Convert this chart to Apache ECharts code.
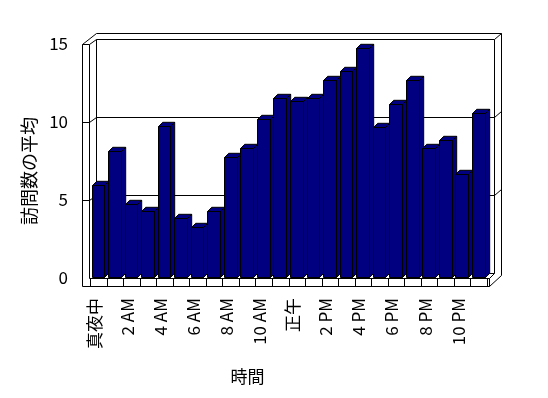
<!DOCTYPE html>
<html>
<head>
<meta charset="utf-8">
<script src="https://cdn.jsdelivr.net/npm/echarts@6/dist/echarts.min.js"></script>
<style>
html,body{margin:0;padding:0;background:#fff;}
#c{width:548px;height:398px;}
</style>
</head>
<body>
<div id="c"></div>
<script>
// ---- data ----
const categories = ['真夜中','1 AM','2 AM','3 AM','4 AM','5 AM','6 AM','7 AM','8 AM','9 AM','10 AM','11 AM',
                    '正午','1 PM','2 PM','3 PM','4 PM','5 PM','6 PM','7 PM','8 PM','9 PM','10 PM','11 PM'];
const avgVisits = [5.9, 8.1, 4.7, 4.2, 9.7, 3.8, 3.2, 4.2, 7.7, 8.3, 10.1, 11.5,
                   11.3, 11.5, 12.6, 13.2, 14.7, 9.6, 11.1, 12.6, 8.3, 8.8, 6.6, 10.5];
const yTicks = [0, 5, 10, 15];
const xTitle = '時間';
const yTitle = '訪問数の平均';

const FONT = '"Noto Sans CJK JP", "Liberation Sans", sans-serif';
const DX = 7, DY = -5.5;      // depth vector of plot
const WALL = 7, FLOOR = 8;    // wall / floor thickness
const BDX = 4.2, BDY = -4.2;  // bar depth
const BAR_COLOR = '#000080';
const s = v => Math.round(v) + 0.5;

const chart = echarts.init(document.getElementById('c'), null, {renderer: 'canvas'});

function seg(x1, y1, x2, y2) {
  return {type: 'line', shape: {x1: s(x1), y1: s(y1), x2: s(x2), y2: s(y2)},
          style: {stroke: '#000', lineWidth: 1}};
}

function frameItem(params, api) {
  const n = categories.length;
  const bw = api.size([1, 0])[0];
  const c0 = api.coord([0, 0]);
  const L = c0[0] - bw / 2;
  const R = L + n * bw;
  const F0 = c0[1];
  const F15 = api.coord([0, yTicks[yTicks.length - 1]])[1];
  const xl = L - 1, xo = xl - WALL;
  const ch = [];
  // back wall inner face
  ch.push(seg(xl + DX, F15 + DY, R + DX, F15 + DY));
  ch.push(seg(xl + DX, F15 + DY, xl + DX, F0 + DY));
  ch.push(seg(R + DX, F15 + DY, R + DX, F0 + DY));
  ch.push(seg(xl + DX, F0 + DY, R + DX, F0 + DY));
  // gridlines
  yTicks.forEach(t => {
    if (t === 0 || t === yTicks[yTicks.length - 1]) return;
    const y = api.coord([0, t])[1];
    ch.push(seg(xl + DX, y + DY, R + DX, y + DY));
    ch.push(seg(xl, y, xl + DX, y + DY));
    ch.push(seg(xo, y, xl, y));
    ch.push(seg(R + DX, y + DY, R + 2 * DX, y + 2 * DY));
  });
  // back wall outer
  ch.push(seg(xo + 2 * DX, F15 + 2 * DY, R + 2 * DX, F15 + 2 * DY));
  ch.push(seg(R + DX, F15 + DY, R + 2 * DX, F15 + 2 * DY));
  ch.push(seg(R + 2 * DX, F15 + 2 * DY, R + 2 * DX, F0 + FLOOR + 2 * DY));
  // left wall
  ch.push(seg(xo, F15, xl, F15));
  ch.push(seg(xo, F15, xo, F0 + FLOOR));
  ch.push(seg(xl, F15, xl, F0));
  ch.push(seg(xo, F15, xo + 2 * DX, F15 + 2 * DY));
  ch.push(seg(xl, F15, xl + DX, F15 + DY));
  // floor
  ch.push(seg(xl, F0, R + 2, F0));
  ch.push(seg(xo, F0 + FLOOR, R + 2, F0 + FLOOR));
  ch.push(seg(R + 2, F0, R + 2, F0 + FLOOR));
  ch.push(seg(R + 2, F0 + FLOOR, R + 2 * DX, F0 + FLOOR + 2 * DY));
  ch.push(seg(R + 2, F0, R + DX, F0 + DY));
  for (let k = 0; k <= n; k++) {
    ch.push(seg(L + k * bw, F0, L + k * bw, F0 + FLOOR));
  }
  return {type: 'group', children: ch};
}

function barItem(params, api) {
  const i = api.value(0), v = api.value(1);
  const bw = api.size([1, 0])[0];
  const c0 = api.coord([i, 0]);
  const ct = api.coord([i, v]);
  const start = c0[0] - bw / 2;
  const x1 = s(start + 1.5), x2 = s(start + 1.5 + bw * 0.77);
  const yb = s(c0[1] - 1), yt = s(ct[1] - 1);
  const st = {fill: BAR_COLOR, stroke: '#000', lineWidth: 1};
  return {type: 'group', children: [
    {type: 'polygon', shape: {points: [[x2, yt], [x2 + BDX, yt + BDY], [x2 + BDX, yb + BDY], [x2, yb]]}, style: st},
    {type: 'polygon', shape: {points: [[x1, yt], [x2, yt], [x2 + BDX, yt + BDY], [x1 + BDX, yt + BDY]]}, style: st},
    {type: 'rect', shape: {x: x1, y: yt, width: x2 - x1, height: yb - yt}, style: st}
  ]};
}

chart.setOption({
  backgroundColor: '#fff',
  animation: false,
  grid: [
    {left: 90, top: 44, width: 397, height: 234, containLabel: false},
    {left: 86, top: 44, width: 397, height: 234, containLabel: false}
  ],
  xAxis: [{
    type: 'category', data: categories, boundaryGap: true, gridIndex: 0,
    axisLine: {show: false}, axisTick: {show: false}, splitLine: {show: false},
    axisLabel: {show: false},
    name: xTitle, nameLocation: 'middle', nameGap: 90,
    nameTextStyle: {fontSize: 17, color: '#000', fontFamily: FONT, padding: [0, 82, 0, 0]}
  }, {
    type: 'category', data: categories, boundaryGap: true, gridIndex: 1,
    axisLine: {show: false}, axisTick: {show: false}, splitLine: {show: false},
    axisLabel: {interval: 1, rotate: 90, margin: 20, fontSize: 17, color: '#000', fontFamily: FONT}
  }],
  yAxis: [{
    type: 'value', min: 0, max: 15, interval: 5, gridIndex: 0,
    axisLine: {show: false}, axisTick: {show: false}, splitLine: {show: false},
    axisLabel: {margin: 22, fontSize: 17, color: '#000', fontFamily: FONT},
    name: yTitle, nameLocation: 'middle', nameRotate: 90, nameGap: 52,
    nameTextStyle: {fontSize: 18, color: '#000', fontFamily: FONT, padding: [0, 20, 0, 0]}
  }, {
    type: 'value', min: 0, max: 15, interval: 5, gridIndex: 1, show: false
  }],
  series: [
    {type: 'custom', z: 1, clip: false, silent: true, renderItem: frameItem, data: [[0, 0]]},
    {type: 'custom', z: 2, clip: false, renderItem: barItem,
     data: avgVisits.map((v, i) => [i, v])}
  ]
});
</script>
</body>
</html>
